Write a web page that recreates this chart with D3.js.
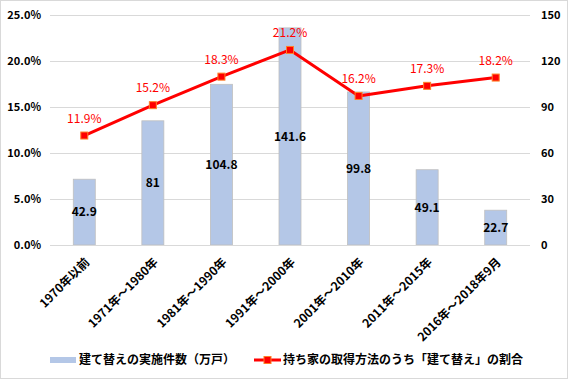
<!DOCTYPE html>
<html><head><meta charset="utf-8">
<script src="https://cdn.jsdelivr.net/npm/d3@7"></script>
<style>body{margin:0;background:#fff}svg{display:block}</style>
</head><body>
<script>
const categories = ["1970年以前","1971年～1980年","1981年～1990年","1991年～2000年","2001年～2010年","2011年～2015年","2016年～2018年9月"];
const counts = [42.9, 81, 104.8, 141.6, 99.8, 49.1, 22.7];
const shares = [11.9, 15.2, 18.3, 21.2, 16.2, 17.3, 18.2];
const leftTicks = [0, 5, 10, 15, 20, 25];
const rightTicks = [0, 30, 60, 90, 120, 150];
const seriesNames = ["建て替えの実施件数（万戸）", "持ち家の取得方法のうち「建て替え」の割合"];

const W = 568, H = 379;
const font = "'Noto Sans CJK JP', 'Noto Sans', sans-serif";
const svg = d3.select("body").append("svg").attr("width", W).attr("height", H)
  .style("font-family", font);
svg.append("rect").attr("x",0.5).attr("y",0.5).attr("width",W-1).attr("height",H-1)
  .attr("fill","#fff").attr("stroke","#d9d9d9");

const L = 50, R = 530, T = 15, B = 245;
const x = d3.scaleBand().domain(categories).range([L, R]);
const yL = d3.scaleLinear().domain([0, 25]).range([B, T]);
const yR = d3.scaleLinear().domain([0, 150]).range([B, T]);

// gridlines
svg.append("g").selectAll("line").data(leftTicks).join("line")
  .attr("x1", L).attr("x2", R).attr("y1", d => yL(d)+0.5).attr("y2", d => yL(d)+0.5)
  .attr("stroke", "#d9d9d9").attr("stroke-width", 1);

// left axis
const axL = d3.axisLeft(yL).tickValues(leftTicks).tickSize(0).tickPadding(0)
  .tickFormat(d => d.toFixed(1) + "%");
const gL = svg.append("g").attr("transform", `translate(${L-9},0)`).call(axL);
gL.select(".domain").remove();
gL.selectAll("text").attr("font-size", 11).attr("font-weight", "bold").attr("fill", "#000")
  .attr("font-family", font);

// right axis
const axR = d3.axisRight(yR).tickValues(rightTicks).tickSize(0).tickPadding(0);
const gR = svg.append("g").attr("transform", `translate(${R+11},0)`).call(axR);
gR.select(".domain").remove();
gR.selectAll("text").attr("font-size", 11).attr("font-weight", "bold").attr("fill", "#000")
  .attr("font-family", font);

// bars
const bw = 22;
svg.append("g").selectAll("rect").data(counts).join("rect")
  .attr("x", (d,i) => x(categories[i]) + x.bandwidth()/2 - bw/2)
  .attr("y", d => yR(d))
  .attr("width", bw)
  .attr("height", d => B - yR(d))
  .attr("fill", "#b4c7e7").attr("stroke", "#bfbfbf").attr("stroke-width", 0.8);

// bottom axis line
svg.append("line").attr("x1", L).attr("x2", R).attr("y1", B+0.5).attr("y2", B+0.5)
  .attr("stroke", "#d9d9d9");

// bar labels
svg.append("g").selectAll("text").data(counts).join("text")
  .attr("x", (d,i) => x(categories[i]) + x.bandwidth()/2)
  .attr("y", d => (yR(d) + B)/2)
  .attr("dy", "0.35em").attr("text-anchor", "middle")
  .attr("font-size", 12).attr("font-weight", "bold").attr("fill", "#000")
  .text(d => d);

// line
const line = d3.line().x((d,i) => x(categories[i]) + x.bandwidth()/2).y(d => yL(d));
svg.append("path").datum(shares).attr("d", line).attr("fill", "none")
  .attr("stroke", "#ff0000").attr("stroke-width", 3).attr("stroke-linejoin", "round");
svg.append("g").selectAll("rect").data(shares).join("rect")
  .attr("x", (d,i) => x(categories[i]) + x.bandwidth()/2 - 3.5)
  .attr("y", d => yL(d) - 3.5).attr("width", 7).attr("height", 7)
  .attr("fill", "#ff0000").attr("stroke", "#ff7f27").attr("stroke-width", 1);
svg.append("g").selectAll("text").data(shares).join("text")
  .attr("x", (d,i) => x(categories[i]) + x.bandwidth()/2)
  .attr("y", d => yL(d) - 17)
  .attr("dy", "0.35em").attr("text-anchor", "middle")
  .attr("font-size", 12).attr("fill", "#ff0000")
  .text(d => d.toFixed(1) + "%");

// x labels
svg.append("g").selectAll("text").data(categories).join("text")
  .attr("transform", d => `translate(${x(d) + x.bandwidth()/2 + 3},${B + 15}) rotate(-45)`)
  .attr("text-anchor", "end").attr("dy", "0.35em")
  .attr("font-size", 12).attr("font-weight", "bold").attr("fill", "#000")
  .text(d => d);

// legend
const ly = 360;
const lg = svg.append("g");
lg.append("rect").attr("x", 50).attr("y", ly - 3).attr("width", 26).attr("height", 6).attr("fill", "#b4c7e7");
lg.append("text").attr("x", 79).attr("y", ly).attr("dy", "0.35em")
  .attr("font-size", 12).attr("font-weight", "bold").attr("fill", "#000").text(seriesNames[0]);
lg.append("line").attr("x1", 254).attr("x2", 281).attr("y1", ly).attr("y2", ly)
  .attr("stroke", "#ff0000").attr("stroke-width", 3);
lg.append("rect").attr("x", 264).attr("y", ly - 3.5).attr("width", 7).attr("height", 7)
  .attr("fill", "#ff0000").attr("stroke", "#ff7f27");
lg.append("text").attr("x", 283).attr("y", ly).attr("dy", "0.35em")
  .attr("font-size", 12).attr("font-weight", "bold").attr("fill", "#000").text(seriesNames[1]);
</script>
</body></html>
